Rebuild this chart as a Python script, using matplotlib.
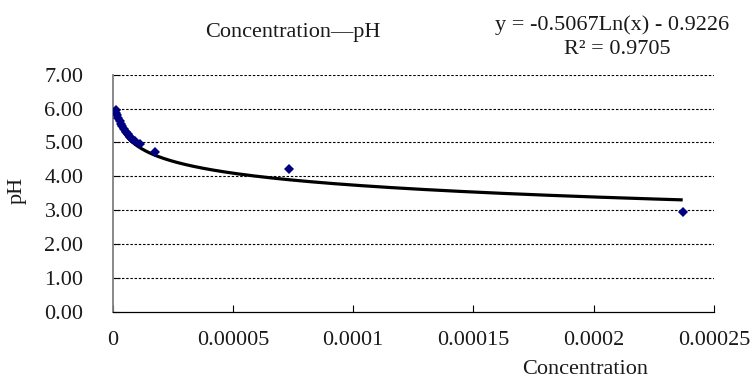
import numpy as np
import matplotlib
matplotlib.use("Agg")
import matplotlib.pyplot as plt

# ---- data ----
concentration = [1.3e-6, 1.6e-6, 2.0e-6, 2.4e-6, 2.9e-6, 3.4e-6, 4.0e-6, 4.7e-6,
                 5.5e-6, 6.4e-6, 7.3e-6, 8.2e-6, 9.2e-6, 11.3e-6, 17.6e-6,
                 73.3e-6, 237e-6]
ph = [5.95, 5.88, 5.80, 5.72, 5.64, 5.56, 5.48, 5.40,
      5.32, 5.24, 5.17, 5.11, 5.05, 4.96, 4.73,
      4.21, 2.95]
trend_a = -0.5067
trend_b = -0.9226
r2 = 0.9705
x_ticks = [0, 0.00005, 0.0001, 0.00015, 0.0002, 0.00025]
x_tick_labels = ["0", "0.00005", "0.0001", "0.00015", "0.0002", "0.00025"]
y_ticks = [0, 1, 2, 3, 4, 5, 6, 7]
title = "Concentration\u2014pH"
xlabel = "Concentration"
ylabel = "pH"

FONT = "Liberation Serif"
FS = 16
TXT = "#1a1a1a"

plt.rcParams["font.family"] = [FONT, "DejaVu Serif"]

fig = plt.figure(figsize=(7.56, 3.79), dpi=100)
ax = fig.add_axes([0.149, 0.1768, 0.9444 - 0.149, 0.8029 - 0.1768])

# gridlines
for yv in y_ticks[1:]:
    ax.axhline(yv, color="black", lw=0.8, ls=(0, (2.2, 1.6)), zorder=1)

# trendline
xt = np.linspace(min(concentration), max(concentration), 600)
ax.plot(xt, trend_a * np.log(xt) + trend_b, color="black", lw=2.3, zorder=2,
        solid_capstyle="butt")

# points
ax.plot(concentration, ph, ls="none", marker="D", markersize=5.0,
        color="#000080", markeredgewidth=0, zorder=3)

ax.set_xlim(0, 0.00025)
ax.set_ylim(0, 7)
ax.set_xticks(x_ticks)
ax.set_xticklabels(x_tick_labels)
ax.set_yticks(y_ticks)
ax.set_yticklabels([f"{v:.2f}" for v in y_ticks])

for s in ("top", "right"):
    ax.spines[s].set_visible(False)
ax.spines["left"].set_color("#808080")
ax.spines["left"].set_linewidth(1.3)
ax.spines["bottom"].set_color("black")
ax.spines["bottom"].set_linewidth(0.9)

ax.tick_params(axis="x", direction="in", length=5, width=0.8, color="black",
               pad=14, labelsize=FS, labelcolor=TXT)
ax.tick_params(axis="y", direction="in", length=5, width=0.8, color="black",
               pad=21, labelsize=FS, labelcolor=TXT)

fig.text(17 / 756, 1 - 190 / 379, ylabel, rotation=90, ha="center", va="center",
         fontsize=FS, color=TXT)
fig.text(585 / 756, 1 - 369 / 379, xlabel, ha="center", va="center",
         fontsize=FS, color=TXT)
fig.text(293 / 756, 1 - 33 / 379, title, ha="center", va="center",
         fontsize=FS, color=TXT)
fig.text(612 / 756, 1 - 25 / 379,
         f"y = {trend_a:.4f}Ln(x) - {abs(trend_b):.4f}",
         ha="center", va="center", fontsize=FS, color=TXT)
fig.text(617 / 756, 1 - 50 / 379, f"R\u00b2 = {r2:.4f}", ha="center", va="center",
         fontsize=FS, color=TXT)

fig.savefig("out.png", dpi=100)
